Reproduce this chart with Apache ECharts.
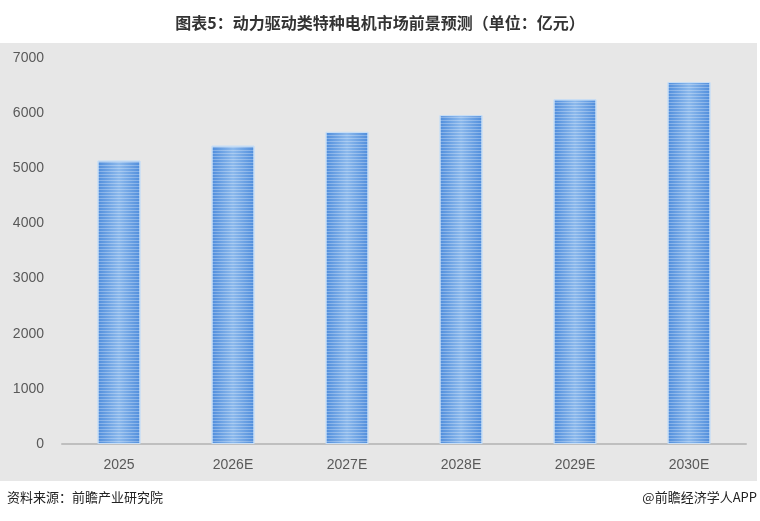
<!DOCTYPE html>
<html>
<head>
<meta charset="utf-8">
<script src="https://cdn.jsdelivr.net/npm/echarts@6/dist/echarts.min.js"></script>
<style>
html,body{margin:0;padding:0;background:#fff;}
#chart{width:760px;height:521px;}
</style>
</head>
<body>
<div id="chart"></div>
<script>
var titleText = '图表5：动力驱动类特种电机市场前景预测（单位：亿元）';
var sourceText = '资料来源：前瞻产业研究院';
var brandText = '@前瞻经济学人APP';
var categories = ['2025', '2026E', '2027E', '2028E', '2029E', '2030E'];
var marketSize = [5140, 5410, 5660, 5965, 6250, 6565];
var yTicks = [0, 1000, 2000, 3000, 4000, 5000, 6000, 7000];

var chart = echarts.init(document.getElementById('chart'), null, {renderer: 'canvas'});
var fontCJK = '"Noto Sans CJK SC", "Noto Sans", sans-serif';
var option = {
  backgroundColor: '#ffffff',
  animation: false,
  title: {
    text: titleText,
    left: 'center',
    top: 10,
    textStyle: {fontSize: 16, fontWeight: 'bold', color: '#333333', fontFamily: fontCJK}
  },
  graphic: [
    {type: 'rect', z: -10, silent: true, shape: {x: 0, y: 43, width: 757, height: 438}, style: {fill: '#e7e7e7'}},
    {type: 'text', left: 7, top: 491, style: {text: sourceText, fontSize: 13, fill: '#222222', fontFamily: fontCJK}},
    {type: 'text', right: 3, top: 491, style: {text: brandText, fontSize: 13, fill: '#222222', fontFamily: fontCJK}}
  ],
  grid: {left: 62, right: 14, top: 58, bottom: 77, containLabel: false},
  xAxis: {
    type: 'category',
    data: categories,
    axisLine: {show: true, lineStyle: {color: '#bfbfbf', width: 2}},
    axisTick: {show: false},
    axisLabel: {color: '#595959', fontSize: 14, margin: 14, fontFamily: 'Liberation Sans, Arial, sans-serif'}
  },
  yAxis: {
    type: 'value',
    min: yTicks[0],
    max: yTicks[yTicks.length - 1],
    interval: yTicks[1] - yTicks[0],
    axisLine: {show: false},
    axisTick: {show: false},
    splitLine: {show: false},
    axisLabel: {
      color: '#595959', fontSize: 14, margin: 18, fontFamily: 'Liberation Sans, Arial, sans-serif',
      formatter: function (v) { return String(v); }
    }
  },
  series: [{
    type: 'bar',
    data: marketSize,
    barWidth: 43,
    itemStyle: {
      color: {
        type: 'linear', x: 0, y: 0, x2: 1, y2: 0,
        colorStops: [
          {offset: 0, color: '#4f8ddc'},
          {offset: 0.5, color: '#8cb9ec'},
          {offset: 1, color: '#4f8ddc'}
        ]
      },
      borderColor: '#c8def5',
      borderWidth: 1,
      decal: {
        symbol: 'rect',
        symbolSize: 1,
        color: 'rgba(255,255,255,0.28)',
        dashArrayX: [1, 0],
        dashArrayY: [1, 2],
        rotation: 0
      }
    }
  }]
};
chart.setOption(option);
</script>
</body>
</html>
